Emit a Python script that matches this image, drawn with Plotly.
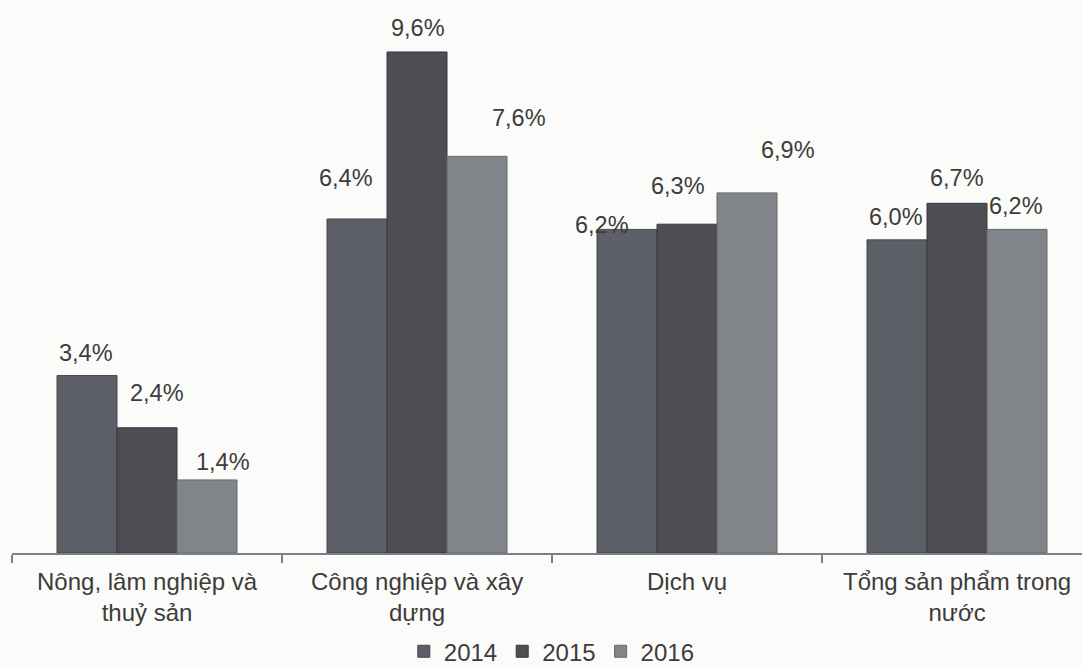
import plotly.graph_objects as go

categories = ["Nông, lâm nghiệp và<br>thuỷ sản", "Công nghiệp và xây<br>dựng", "Dịch vụ", "Tổng sản phẩm trong<br>nước"]
years = ["2014", "2015", "2016"]
v2014 = [3.4, 6.4, 6.2, 6.0]
v2015 = [2.4, 9.6, 6.3, 6.7]
v2016 = [1.4, 7.6, 6.9, 6.2]
labels2014 = ["3,4%", "6,4%", "6,2%", "6,0%"]
labels2015 = ["2,4%", "9,6%", "6,3%", "6,7%"]
labels2016 = ["1,4%", "7,6%", "6,9%", "6,2%"]

series = [v2014, v2015, v2016]
labels = [labels2014, labels2015, labels2016]
colors = ["#5c5f65", "#4c4e54", "#818489"]
edge = ["#45474c", "#38393e", "#65686d"]

# label offsets (px) relative to bar top centre: (dx, dy up)
offsets = [
    [(-1, 23), (-11, 41), (-25, 4), (-1, 23)],
    [(10, 35), (1, 24), (-9, 38), (0, 25)],
    [(16, 18), (42, 38), (41, 43), (-1, 23)],
]

FONT = "Liberation Sans, Arial, sans-serif"
TXT = "#3c3c3c"
xpos = list(range(len(categories)))

fig = go.Figure()
for j, yr in enumerate(years):
    fig.add_trace(go.Bar(
        x=xpos, y=series[j], name=yr,
        marker=dict(color=colors[j], line=dict(color=edge[j], width=1)),
    ))

annotations = []
for j in range(3):
    for i in range(len(categories)):
        dx, dy = offsets[j][i]
        annotations.append(dict(
            x=i + (j - 1) * 2 / 9, y=series[j][i], xref="x", yref="y",
            text=labels[j][i], showarrow=False, xanchor="center", yanchor="middle",
            xshift=dx, yshift=dy, font=dict(family=FONT, size=23.5, color=TXT),
        ))
for i, c in enumerate(categories):
    annotations.append(dict(
        x=i, y=0, xref="x", yref="paper", text=c, showarrow=False,
        xanchor="center", yanchor="top", yshift=-13,
        font=dict(family=FONT, size=24, color=TXT),
    ))

fig.update_layout(
    width=1082, height=667,
    margin=dict(l=12, r=0, t=5, b=114, autoexpand=False),
    paper_bgcolor="#fbfbf9", plot_bgcolor="#fbfbf9",
    barmode="group", bargap=1 / 3, bargroupgap=0,
    showlegend=True,
    legend=dict(orientation="h", x=0.51, xanchor="center", xref="container",
                y=0.023, yanchor="middle", yref="container",
                font=dict(family=FONT, size=24, color=TXT), itemwidth=30,
                bgcolor="rgba(0,0,0,0)"),
    annotations=annotations,
    xaxis=dict(range=[-0.5, -0.5 + 1070 / 270], showgrid=False, zeroline=False,
               showline=True, linecolor="#7a7f8a", linewidth=1.5,
               tickmode="array", tickvals=[-0.5, 0.5, 1.5, 2.5, 3.5], ticktext=[""] * 5,
               ticks="outside", ticklen=8, tickcolor="#7a7f8a", tickwidth=1.5),
    yaxis=dict(range=[0, 10.5], visible=False, showgrid=False, zeroline=False),
)

fig.write_html("out.html")
